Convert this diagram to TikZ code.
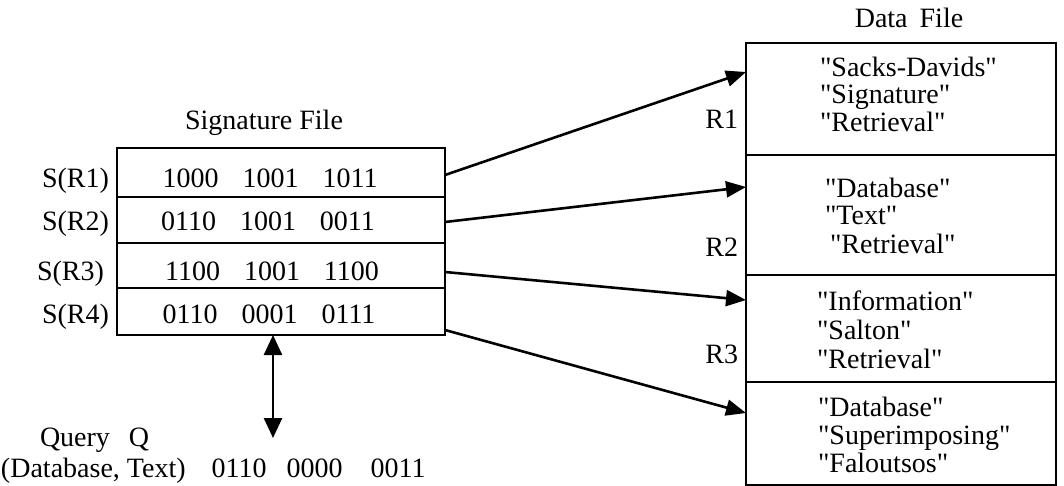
\documentclass[tikz,border=0pt]{standalone}
\usepackage{fontspec}
\setmainfont{Liberation Serif}[Ligatures=TeXOff]
\usetikzlibrary{arrows.meta}
\begin{document}
\begin{tikzpicture}[x=1pt,y=-1pt,
  every node/.style={font=\fontsize{28}{32}\selectfont, inner sep=0pt, outer sep=0pt},
  sigrow/.style={draw, line width=2pt, minimum width=328pt},
  datarow/.style={draw, line width=2pt, minimum width=310pt},
  link/.style={line width=2.6pt, -{Triangle[length=20pt,width=16pt]}},
  qlink/.style={line width=2.6pt, {Triangle[length=20pt,width=18pt]}-{Triangle[length=20pt,width=18pt]}}]
\useasboundingbox (0,0) rectangle (1064,486);

% signature file rows
\node[sigrow, minimum height=49pt] (s1) at (281,172.5) {};
\node[sigrow, minimum height=46pt] (s2) at (281,220) {};
\node[sigrow, minimum height=45pt] (s3) at (281,265.5) {};
\node[sigrow, minimum height=47pt] (s4) at (281,311.5) {};

\node[anchor=base] (sigtitle) at (264,130) {Signature File};

\node[anchor=base east] (l1) at (109,188) {S(R1)};
\node[anchor=base east] (l2) at (109,230) {S(R2)};
\node[anchor=base east] (l3) at (104,280) {S(R3)};
\node[anchor=base east] (l4) at (109,323) {S(R4)};

\node[anchor=base] (b1) at (270,188) {1000\hspace{24pt}1001\hspace{24pt}1011};
\node[anchor=base] (b2) at (268,230) {0110\hspace{24pt}1001\hspace{24pt}0011};
\node[anchor=base] (b3) at (272,280) {1100\hspace{24pt}1001\hspace{24pt}1100};
\node[anchor=base] (b4) at (269,323) {0110\hspace{24pt}0001\hspace{24pt}0111};

% data file rows
\node[datarow, minimum height=112pt] (d1) at (901,99) {};
\node[datarow, minimum height=120pt] (d2) at (901,215) {};
\node[datarow, minimum height=107pt] (d3) at (901,328.5) {};
\node[datarow, minimum height=103pt] (d4) at (901,433.5) {};

\node[anchor=base] (dtitle) at (909,28) {Data\hspace{12pt}File};

\node[anchor=base east] (r1) at (738,129) {R1};
\node[anchor=base east] (r2) at (738,256) {R2};
\node[anchor=base east] (r3) at (738,363) {R3};

\node[anchor=base west] (t11) at (820,77) {"Sacks-Davids"};
\node[anchor=base west] (t12) at (820,104) {"Signature"};
\node[anchor=base west] (t13) at (820,132) {"Retrieval"};

\node[anchor=base west] (t21) at (825,198) {"Database"};
\node[anchor=base west] (t22) at (825,225) {"Text"};
\node[anchor=base west] (t23) at (830,253) {"Retrieval"};

\node[anchor=base west] (t31) at (817,310) {"Information"};
\node[anchor=base west] (t32) at (817,339) {"Salton"};
\node[anchor=base west] (t33) at (817,368) {"Retrieval"};

\node[anchor=base west] (t41) at (818,416) {"Database"};
\node[anchor=base west] (t42) at (818,444) {"Superimposing"};
\node[anchor=base west] (t43) at (818,472) {"Faloutsos"};

% links
\draw[link] ([yshift=-2.5pt]s1.east) -- ([yshift=-29pt]d1.north west);
\draw[link] ([yshift=-2pt]s2.east) -- ([yshift=-32pt]d2.north west);
\draw[link] ([yshift=-6.5pt]s3.east) -- ([yshift=-25pt]d3.north west);
\draw[link] ([yshift=5pt]s4.south east) -- ([yshift=-31pt]d4.north west);

% query
\coordinate (qa) at (273,438);
\draw[qlink] (qa) -- (qa |- s4.south);

\node[anchor=base west] (qt) at (40,446) {Query\hspace{19pt}Q};
\node[anchor=base west] (qs) at (1,477) {(Database, Text)\hspace{26pt}0110\hspace{20pt}0000\hspace{28pt}0011};
\end{tikzpicture}
\end{document}
